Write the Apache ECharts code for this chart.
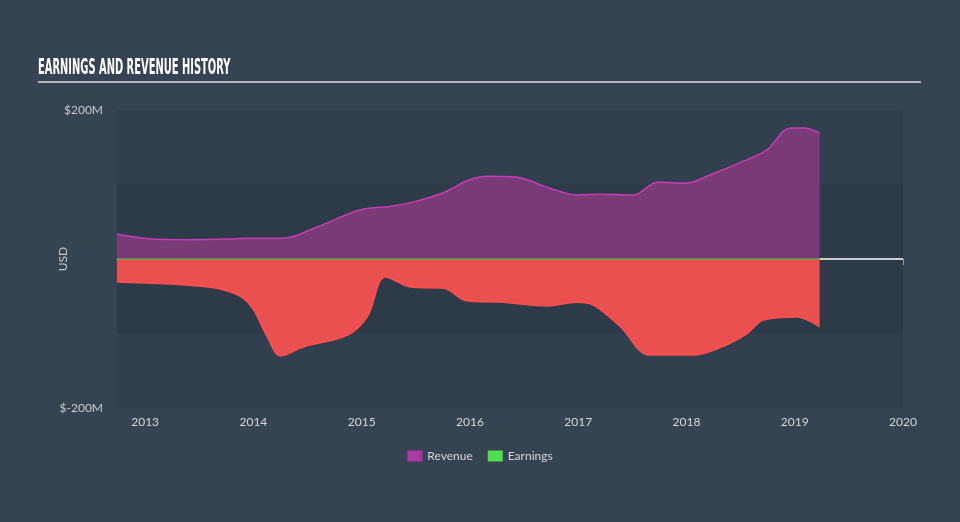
<!DOCTYPE html>
<html>
<head>
<meta charset="utf-8">
<script src="https://cdn.jsdelivr.net/npm/echarts@6/dist/echarts.min.js"></script>
<style>
html,body{margin:0;padding:0;background:#354352;}
#c{width:960px;height:522px;}
</style>
</head>
<body>
<div id="c"></div>
<script>
// Decimal years and values in $M
const revenueX = [2012.74, 2013.05, 2013.42, 2013.81, 2013.97, 2014.27, 2014.59, 2014.99, 2015.29, 2015.54, 2015.77, 2015.99, 2016.18, 2016.42, 2016.74, 2016.99, 2017.20, 2017.51, 2017.73, 2018.00, 2018.22, 2018.49, 2018.74, 2018.96, 2019.08, 2019.23];
const revenueY = [33.5, 27, 26, 27, 28, 28, 43, 66, 71, 79, 90, 106, 111, 110, 95, 86, 87, 86, 103, 102, 113, 129, 146, 176, 176, 169];
const earningsX = [2012.74, 2013.60, 2013.88, 2014.00, 2014.13, 2014.25, 2014.46, 2014.87, 2015.05, 2015.22, 2015.47, 2015.75, 2015.97, 2016.31, 2016.71, 2016.99, 2017.14, 2017.39, 2017.66, 2018.06, 2018.31, 2018.56, 2018.71, 2019.02, 2019.23];
const earningsY = [-31, -38, -50, -68, -105, -130, -118, -102, -78, -24, -38, -39, -56, -58, -63, -58, -62, -91, -129, -129, -119, -100, -82, -78, -91];
const yearTicks = [2013, 2014, 2015, 2016, 2017, 2018, 2019, 2020];
const xMin = 2012.74, xMax = 2020;

const zip = (xs, ys) => xs.map((x, i) => [x, ys[i]]);

const chart = echarts.init(document.getElementById('c'), null, {renderer: 'canvas'});
chart.setOption({
  backgroundColor: '#354352',
  animation: false,
  graphic: [{
    type: 'text', left: 38, top: 57, scaleX: 0.45,
    style: {
      text: 'EARNINGS AND REVENUE HISTORY', fill: '#ffffff',
      font: 'bold 22px "DejaVu Sans"'
    }
  }, {
    type: 'line', shape: {x1: 38, y1: 82, x2: 921, y2: 82},
    style: {stroke: '#b5bac1', lineWidth: 2}
  }],
  legend: {
    bottom: 55, left: 'center',
    itemWidth: 15, itemHeight: 11, itemGap: 15,
    icon: 'rect',
    textStyle: {color: '#d5d8dc', fontFamily: 'Lato', fontSize: 12},
    data: [
      {name: 'Revenue', itemStyle: {color: '#ad3aa0'}},
      {name: 'Earnings', itemStyle: {color: '#4ede4e'}}
    ]
  },
  grid: {
    left: 117, right: 57, top: 110, bottom: 114,
    show: true, backgroundColor: '#323f4e', borderWidth: 0
  },
  xAxis: {
    type: 'value', min: xMin, max: xMax,
    axisLine: {show: true, lineStyle: {color: '#8e9bab', width: 1}},
    axisTick: {show: true, customValues: yearTicks, length: 6, lineStyle: {color: '#8e9bab'}},
    axisLabel: {customValues: yearTicks, color: '#d5d8dc', fontFamily: 'Lato', fontSize: 12, margin: 8,
      formatter: v => String(Math.round(v))},
    splitLine: {show: false}
  },
  yAxis: {
    type: 'value', min: -200, max: 200, interval: 200,
    name: 'USD', nameLocation: 'middle', nameGap: 48, nameRotate: 90, nameMoveOverlap: false,
    nameTextStyle: {color: '#c8ccd2', fontFamily: 'Lato', fontSize: 12},
    axisLine: {show: false}, axisTick: {show: false},
    axisLabel: {color: '#c8ccd2', fontFamily: 'Lato', fontSize: 12, margin: 14,
      formatter: v => v === 0 ? '' : '$' + v + 'M'},
    splitLine: {show: false}
  },
  series: [
    {
      name: 'zero', type: 'line', silent: true, symbol: 'none', z: 1,
      data: [[xMin, 0], [xMax, 0]],
      lineStyle: {color: '#ffffff', width: 1.5},
      markArea: {
        silent: true,
        itemStyle: {color: '#2d3a48'},
        data: [[{yAxis: -100}, {yAxis: 100}]]
      }
    },
    {
      name: 'Revenue', type: 'line', symbol: 'none', smooth: 0.35, z: 3,
      data: zip(revenueX, revenueY),
      lineStyle: {color: '#c43fb4', width: 1.5},
      areaStyle: {color: '#7a3977', opacity: 1},
      itemStyle: {color: '#ad3aa0'}
    },
    {
      name: 'EarningsLoss', type: 'line', symbol: 'none', smooth: 0.35, z: 3,
      data: zip(earningsX, earningsY),
      lineStyle: {color: '#ff4f4f', width: 1.5},
      areaStyle: {color: '#ea5050', opacity: 1}
    },
    {
      name: 'Earnings', type: 'line', symbol: 'none', z: 4,
      data: [[xMin, 0], [revenueX[revenueX.length - 1], 0]],
      lineStyle: {color: '#5fae4a', width: 1.5},
      itemStyle: {color: '#4ede4e'}
    }
  ]
});
</script>
</body>
</html>
